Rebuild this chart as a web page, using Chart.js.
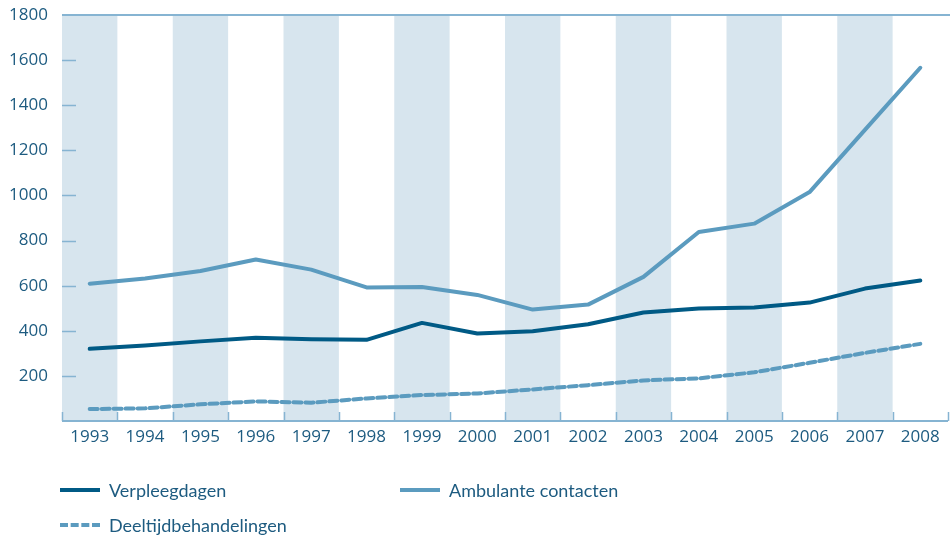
<!DOCTYPE html>
<html>
<head>
<meta charset="utf-8">
<script src="https://cdn.jsdelivr.net/npm/chart.js@4"></script>
<style>
  html, body { margin: 0; padding: 0; background: #fff; }
  .wrap { position: relative; width: 950px; height: 539px; }
  .legend { position: absolute; left: 0; top: 0; font-family: Lato, "Open Sans", sans-serif; font-size: 18px; color: #1d5b80; }
  .item { position: absolute; display: flex; align-items: center; white-space: nowrap; height: 22px; }
  .swatch { width: 40px; height: 0; border-top-width: 4px; border-top-style: solid; margin-right: 9px; }
</style>
</head>
<body>
<div class="wrap">
  <canvas id="chart" width="950" height="539"></canvas>
  <div class="legend">
    <div class="item" style="left:60px; top:479px;"><span class="swatch" style="border-top-color:#005a85"></span>Verpleegdagen</div>
    <div class="item" style="left:400px; top:479px;"><span class="swatch" style="border-top-color:#5b9bbf"></span>Ambulante contacten</div>
    <div class="item" style="left:60px; top:514px;"><span class="swatch" style="border-top-color:#5b9bbf; border-top-style:dashed"></span>Deeltijdbehandelingen</div>
  </div>
</div>
<script>
const years = ['1993', '1994', '1995', '1996', '1997', '1998', '1999', '2000',
  '2001', '2002', '2003', '2004', '2005', '2006', '2007', '2008'];
const verpleegdagen = [320, 335, 353, 369, 362, 360, 435, 388, 398, 429, 481, 499, 503, 525, 587, 623];
const ambulante = [609, 632, 665, 716, 671, 592, 594, 559, 494, 516, 639, 838, 875, 1015, 1291, 1566];
const deeltijd = [53, 56, 74, 87, 81, 100, 115, 122, 140, 159, 180, 189, 216, 258, 302, 342];
const yTicks = [200, 400, 600, 800, 1000, 1200, 1400, 1600, 1800];

const textColor = '#1d5b80';
const axisColor = '#86b4d2';
const bandColor = '#d7e5ee';

// shaded bands, top line, bottom axis and the inward tick marks
const frame = {
  id: 'frame',
  beforeDatasetsDraw(chart) {
    const { ctx, chartArea: a, scales: { x, y } } = chart;
    const w = x.width / years.length;
    ctx.save();
    ctx.fillStyle = bandColor;
    years.forEach((yr, i) => {
      if (i % 2 === 0) {
        const cx = x.getPixelForValue(i);
        ctx.fillRect(cx - w / 2, a.top, w, a.bottom - a.top);
      }
    });
    ctx.strokeStyle = axisColor;
    ctx.lineWidth = 2;
    ctx.beginPath();
    ctx.moveTo(a.left, y.getPixelForValue(1800));
    ctx.lineTo(950, y.getPixelForValue(1800));
    ctx.moveTo(a.left, a.bottom);
    ctx.lineTo(a.right, a.bottom);
    ctx.stroke();
    ctx.lineWidth = 1.5;
    ctx.beginPath();
    yTicks.slice(0, -1).forEach(v => {
      const py = Math.round(y.getPixelForValue(v)) + 0.5;
      ctx.moveTo(a.left, py);
      ctx.lineTo(a.left + 14, py);
    });
    for (let i = 0; i <= years.length; i++) {
      const px = Math.round(a.left + i * w) + 0.5;
      ctx.moveTo(px, a.bottom);
      ctx.lineTo(px, a.bottom - 9);
    }
    ctx.stroke();
    ctx.restore();
  }
};

new Chart(document.getElementById('chart'), {
  type: 'line',
  data: {
    labels: years,
    datasets: [
      { label: 'Verpleegdagen', data: verpleegdagen, borderColor: '#005a85', borderWidth: 4 },
      { label: 'Ambulante contacten', data: ambulante, borderColor: '#5b9bbf', borderWidth: 4 },
      { label: 'Deeltijdbehandelingen', data: deeltijd, borderColor: '#5b9bbf', borderWidth: 4, borderDash: [8, 4] }
    ]
  },
  options: {
    responsive: false,
    animation: false,
    layout: { padding: { left: 9, right: 2, top: 15, bottom: 78 } },
    elements: { point: { radius: 0 }, line: { tension: 0, borderCapStyle: 'round', borderJoinStyle: 'round' } },
    plugins: { legend: { display: false }, tooltip: { enabled: false } },
    scales: {
      x: {
        offset: true,
        grid: { display: false, drawTicks: false },
        border: { display: false },
        afterFit(axis) { axis.height = 40; axis.paddingLeft = 0; axis.paddingRight = 0; },
        ticks: { color: textColor, font: { family: 'Open Sans', size: 17 }, padding: 6, maxRotation: 0 }
      },
      y: {
        min: 0,
        max: 1800,
        grid: { display: false, drawTicks: false },
        border: { display: false },
        afterBuildTicks(axis) { axis.ticks = [0, ...yTicks].map(v => ({ value: v })); },
        afterFit(axis) { axis.width = 53; axis.paddingTop = 0; axis.paddingBottom = 0; },
        ticks: {
          color: textColor,
          font: { family: 'Open Sans', size: 17 },
          padding: 14,
          callback: v => (v === 0 ? '' : v)
        }
      }
    }
  },
  plugins: [frame]
});
</script>
</body>
</html>
